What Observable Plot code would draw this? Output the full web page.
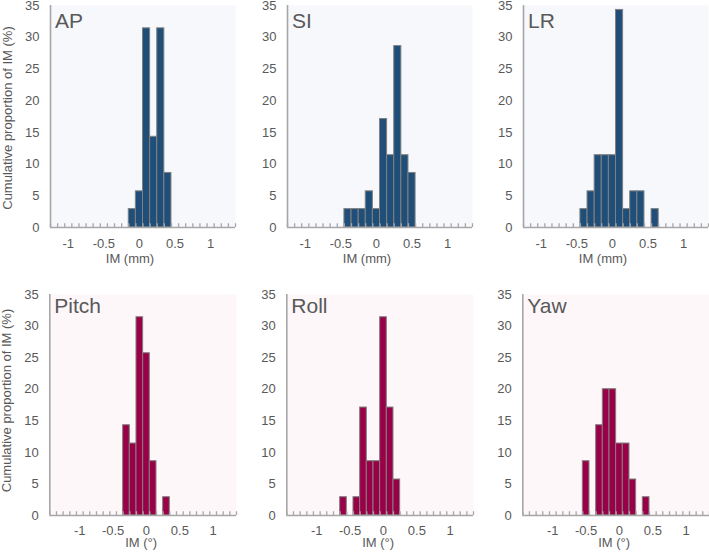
<!DOCTYPE html>
<html>
<head>
<meta charset="utf-8">
<script src="https://cdn.jsdelivr.net/npm/d3@7"></script>
<script src="https://cdn.jsdelivr.net/npm/@observablehq/plot@0.6"></script>
<style>
  html, body { margin: 0; padding: 0; background: #ffffff; }
  #chart { position: relative; width: 709px; height: 554px; overflow: hidden; background: #ffffff; }
  #chart svg { position: absolute; overflow: visible; }
</style>
</head>
<body>
<div id="chart"></div>
<script>
// ---- data (bin centres, % of IM per bin) ----
const apX = [-0.1, 0, 0.1, 0.2, 0.3, 0.4];
const apV = [2.9, 5.7, 31.4, 14.3, 31.4, 8.6];

const siX = [-0.4, -0.3, -0.2, -0.1, 0, 0.1, 0.2, 0.3, 0.4, 0.5];
const siV = [2.9, 2.9, 2.9, 5.7, 2.9, 17.1, 11.4, 28.6, 11.4, 8.6];

const lrX = [-0.4, -0.3, -0.2, -0.1, 0, 0.1, 0.2, 0.3, 0.4, 0.6];
const lrV = [2.9, 5.7, 11.4, 11.4, 11.4, 34.3, 2.9, 5.7, 5.7, 2.9];

const pitchX = [-0.3, -0.2, -0.1, 0, 0.1, 0.3];
const pitchV = [14.3, 11.4, 31.4, 25.7, 8.6, 2.9];

const rollX = [-0.6, -0.4, -0.3, -0.2, -0.1, 0, 0.1, 0.2];
const rollV = [2.9, 2.9, 17.1, 8.6, 8.6, 31.4, 17.1, 5.7];

const yawX = [-0.5, -0.3, -0.2, -0.1, 0, 0.1, 0.2, 0.4];
const yawV = [8.6, 14.3, 20, 20, 11.4, 11.4, 5.7, 2.9];

const panelLabels = ["AP", "SI", "LR", "Pitch", "Roll", "Yaw"];
const xTitles = ["IM (mm)", "IM (°)"];
const yTitle = "Cumulative proportion of IM (%)";
const xTickValues = [-1, -0.5, 0, 0.5, 1];
const yTickValues = [0, 5, 10, 15, 20, 25, 30, 35];
const binWidth = 0.1;
const topDomain = [-1.25, 1.35];
const bottomDomain = [-1.45, 1.35];

// ---- drawing ----
const chart = document.getElementById("chart");
const textColor = "#595959";
const axisColor = "#a6a6a6";

function panel(cfg) {
  const data = cfg.xs.map((x, i) => ({x, v: cfg.vs[i]}));
  const nb = Math.round((cfg.domain[1] - cfg.domain[0]) / binWidth);
  const bounds = d3.range(nb + 1).map(i => cfg.domain[0] + i * binWidth);
  const marks = [
    Plot.frame({fill: cfg.bg, stroke: null}),
    Plot.rectY(data, {
      x1: d => d.x - binWidth / 2,
      x2: d => d.x + binWidth / 2,
      y1: 0,
      y2: "v",
      fill: cfg.fill,
      stroke: "#808080",
      strokeWidth: 1
    }),
    Plot.ruleX(bounds, {x: d => d, y1: 0, y2: 0.6, stroke: axisColor, strokeWidth: 1.3}),
    Plot.ruleY([0], {stroke: axisColor, strokeWidth: 1.6}),
    Plot.ruleX([cfg.domain[0]], {y1: 0, y2: 35, stroke: axisColor, strokeWidth: 1.6}),
    Plot.text([cfg.label], {
      frameAnchor: "top-left", textAnchor: "start", lineAnchor: "top",
      dx: 4.5, dy: cfg.labelDy, fontSize: 21, fill: textColor
    }),
    Plot.text([cfg.xTitle], {
      frameAnchor: "bottom", lineAnchor: "top",
      dx: cfg.xTitleDx, dy: cfg.xTitleDy, fontSize: 13, fill: textColor
    })
  ];
  if (cfg.showYTitle) {
    marks.push(Plot.text([yTitle], {
      frameAnchor: "left", textAnchor: "middle", lineAnchor: "middle",
      rotate: -90, dx: -42.5, dy: cfg.yTitleDy,
      fontSize: 13, fill: textColor
    }));
  }
  const svg = Plot.plot({
    width: cfg.width,
    height: cfg.height,
    marginLeft: cfg.marginLeft,
    marginRight: cfg.marginRight,
    marginTop: 5,
    marginBottom: cfg.marginBottom,
    style: {fontFamily: "'Liberation Sans', Arial, sans-serif", fontSize: "13px", color: textColor, background: "transparent"},
    x: {domain: cfg.domain, ticks: xTickValues, tickSize: 0, tickPadding: cfg.xTickPad, tickFormat: d => String(d), label: null},
    y: {domain: [0, 35], ticks: yTickValues, tickSize: 0, tickPadding: 11, tickFormat: d => String(d), label: null},
    marks
  });
  svg.style.left = cfg.left + "px";
  svg.style.top = cfg.top + "px";
  chart.appendChild(svg);
}

const topSets = [[apX, apV], [siX, siV], [lrX, lrV]];
const bottomSets = [[pitchX, pitchV], [rollX, rollV], [yawX, yawV]];

topSets.forEach(([xs, vs], i) => panel({
  xs, vs, label: panelLabels[i], xTitle: xTitles[0],
  domain: topDomain, fill: "#1f4e79", bg: "#f6f8fc",
  left: 236.7 * i, top: 0, width: 236, height: 270,
  marginLeft: 50, marginRight: 1, marginBottom: 43,
  labelDy: 7.5, xTitleDx: -13, xTitleDy: 26.5, yTitleDy: 1.5, xTickPad: 11,
  showYTitle: i === 0
}));

bottomSets.forEach(([xs, vs], i) => panel({
  xs, vs, label: panelLabels[i + 3], xTitle: xTitles[1],
  domain: bottomDomain, fill: "#990047", bg: "#fdf7f9",
  left: 236.7 * i, top: 289, width: 236, height: 265,
  marginLeft: 49.3, marginRight: 0, marginBottom: 39,
  labelDy: 4, xTitleDx: -2, xTitleDy: 22.5, yTitleDy: -4.5, xTickPad: 10,
  showYTitle: i === 0
}));
</script>
</body>
</html>
